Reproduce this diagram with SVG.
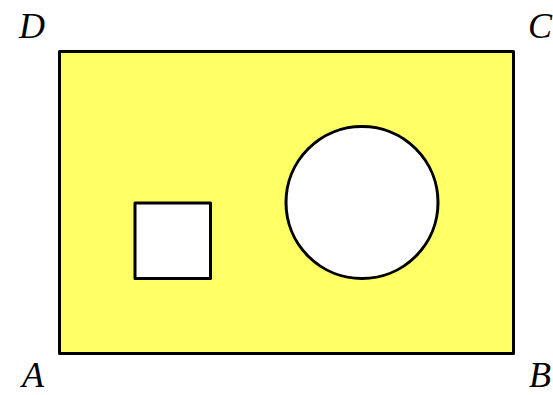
<svg xmlns="http://www.w3.org/2000/svg" width="553" height="395" viewBox="0 0 553 395">
<style>
.shape{stroke:#000;stroke-width:3;stroke-linejoin:round}
.lbl{font-family:"Liberation Serif","Times New Roman",serif;font-style:italic;font-size:36px;fill:#000;text-anchor:middle}
</style>
<rect width="553" height="395" fill="#fff"/>
<g id="plate"><rect class="shape" x="59.5" y="51.5" width="454" height="302" fill="#ffff66"/></g>
<g id="square"><rect class="shape" x="135" y="203" width="75.5" height="75.5" fill="#fff"/></g>
<g id="circle"><circle class="shape" cx="362" cy="202.5" r="76" fill="#fff"/></g>
<g id="labels">
<text class="lbl" x="32" y="38">D</text>
<text class="lbl" x="540" y="38">C</text>
<text class="lbl" x="33" y="387">A</text>
<text class="lbl" x="540" y="387">B</text>
</g>
</svg>
